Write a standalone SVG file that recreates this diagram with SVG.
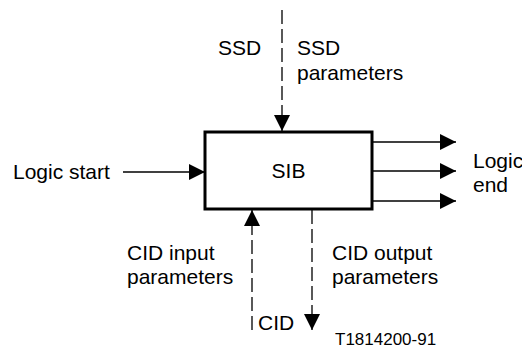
<svg xmlns="http://www.w3.org/2000/svg" width="522" height="350" viewBox="0 0 522 350">
<defs>
<style>
text{font-family:"Liberation Sans",Arial,sans-serif;font-size:21px;fill:#000}
.small{font-size:17px}
.solid{stroke:#000;stroke-width:1.5;fill:none}
.dash{stroke:#000;stroke-width:1.3;fill:none;stroke-dasharray:14,5}
</style>
<marker id="ah" viewBox="0 0 16 16" refX="16" refY="8" markerWidth="16" markerHeight="16" markerUnits="userSpaceOnUse" orient="auto">
<path d="M0,0 L16,8 L0,16 Z" fill="#000"/>
</marker>
</defs>
<rect width="522" height="350" fill="#fff"/>
<g id="sib">
<rect x="205" y="132" width="167" height="77" fill="#fff" stroke="#000" stroke-width="3"/>
<text x="288.5" y="178" text-anchor="middle">SIB</text>
</g>
<g id="labels">
<text x="13" y="179">Logic start</text>
<text x="218" y="55">SSD</text>
<text x="297" y="55">SSD</text>
<text x="297" y="80">parameters</text>
<text x="473" y="168">Logic</text>
<text x="473" y="192">end</text>
<text x="127" y="260">CID input</text>
<text x="127" y="284">parameters</text>
<text x="332" y="260">CID output</text>
<text x="332" y="284">parameters</text>
<text x="258" y="330">CID</text>
<text class="small" x="335" y="345">T1814200-91</text>
</g>
<g id="connectors">
<line class="solid" x1="123" y1="172" x2="205" y2="172" marker-end="url(#ah)"/>
<line class="solid" x1="373" y1="142" x2="456" y2="142" marker-end="url(#ah)"/>
<line class="solid" x1="373" y1="171" x2="456" y2="171" marker-end="url(#ah)"/>
<line class="solid" x1="373" y1="201" x2="456" y2="201" marker-end="url(#ah)"/>
<line class="dash" x1="282" y1="10" x2="282" y2="131" marker-end="url(#ah)"/>
<line class="dash" x1="252" y1="330" x2="252" y2="210" marker-end="url(#ah)"/>
<line class="dash" x1="312" y1="210" x2="312" y2="330" marker-end="url(#ah)"/>
</g>
</svg>
